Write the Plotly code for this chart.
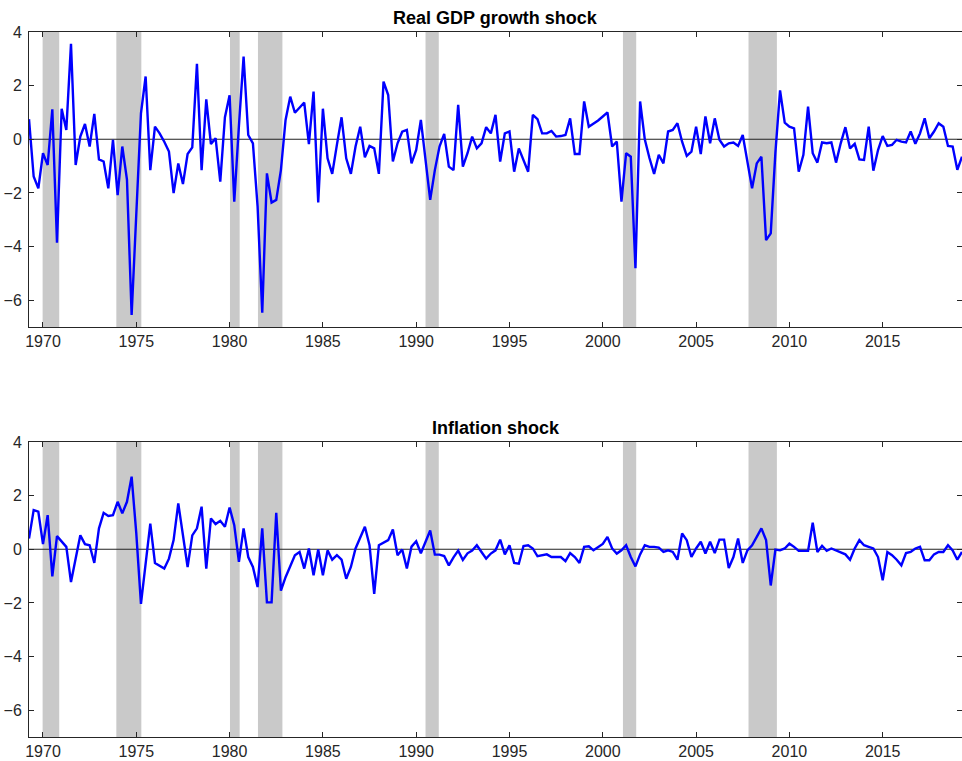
import plotly.graph_objects as go

# ---------------- data ----------------
start_year = 1969.25  # 1969Q2, quarterly observations
gdp_shock = [
    0.75, -1.39, -1.83, -0.52, -0.96, 1.12, -3.86, 1.14, 0.35, 3.56,
    -0.96, 0.10, 0.57, -0.27, 0.95, -0.75, -0.83, -1.83, -0.02, -2.08,
    -0.27, -1.5, -6.55, -2.8, 0.97, 2.34, -1.15, 0.47, 0.22, -0.09,
    -0.46, -2.01, -0.90, -1.67, -0.55, -0.30, 2.81, -1.15, 1.49, -0.18,
    0.04, -1.58, 0.82, 1.64, -2.33, 0.5, 3.08, 0.16, -0.15, -2.5,
    -6.47, -1.27, -2.36, -2.26, -1.15, 0.72, 1.59, 0.99, 1.19, 1.37,
    -0.18, 1.78, -2.36, 1.14, -0.71, -1.29, -0.21, 0.82, -0.71, -1.29,
    -0.27, 0.47, -0.67, -0.25, -0.34, -1.29, 2.15, 1.65, -0.83, -0.15,
    0.28, 0.35, -0.90, -0.40, 0.72, -0.8, -2.26, -1.15, -0.27, 0.20,
    -1.02, -1.15, 1.28, -1.02, -0.52, 0.10, -0.34, -0.15, 0.45, 0.22,
    0.91, -0.83, 0.22, 0.29, -1.21, -0.34, -0.77, -1.21, 0.91, 0.75,
    0.22, 0.22, 0.31, 0.10, 0.12, 0.16, 0.78, -0.55, -0.55, 1.41,
    0.47, 0.57, 0.70, 0.85, 1.00, -0.27, -0.09, -2.33, -0.52, -0.65,
    -4.81, 1.41, 0.0, -0.7, -1.29, -0.58, -0.90, 0.29, 0.35, 0.60,
    -0.09, -0.62, -0.46, 0.47, -0.55, 0.85, -0.15, 0.78, -0.02, -0.27,
    -0.15, -0.12, -0.25, 0.16, -0.77, -1.83, -0.90, -0.65, -3.76, -3.51,
    -0.5, 1.82, 0.62, 0.47, 0.41, -1.21, -0.58, 1.22, -0.52, -0.87,
    -0.12, -0.15, -0.12, -0.87, -0.15, 0.45, -0.34, -0.17, -0.75, -0.77,
    0.47, -1.17, -0.40, 0.12, -0.25, -0.21, -0.02, -0.09, -0.12, 0.29,
    -0.17, 0.22, 0.78, 0.04, 0.29, 0.60, 0.47, -0.25, -0.27, -1.14,
    -0.65,
]
inflation_shock = [
    0.4, 1.46, 1.4, 0.19, 1.27, -1.01, 0.49, 0.28, 0.09, -1.22,
    -0.35, 0.52, 0.19, 0.15, -0.51, 0.78, 1.36, 1.24, 1.27, 1.77,
    1.34, 1.77, 2.71, 0.59, -2.04, -0.6, 0.96, -0.51, -0.6, -0.72,
    -0.35, 0.34, 1.71, 0.59, -0.66, 0.52, 0.78, 1.59, -0.72, 1.15,
    0.94, 1.06, 0.84, 1.56, 0.9, -0.47, 0.78, -0.29, -0.66, -1.41,
    0.78, -1.98, -1.98, 1.36, -1.54, -1.04, -0.6, -0.22, -0.1, -0.72,
    0.03, -0.97, -0.01, -0.97, -0.04, -0.39, -0.22, -0.39, -1.1, -0.66,
    0.03, 0.44, 0.84, 0.15, -1.66, 0.15, 0.24, 0.34, 0.74, -0.22,
    -0.01, -0.72, 0.1, 0.3, -0.15, 0.25, 0.7, -0.2, -0.2, -0.25,
    -0.6, -0.3, -0.05, -0.4, -0.15, -0.05, 0.15, -0.1, -0.35, -0.16,
    -0.04, 0.36, -0.19, 0.15, -0.51, -0.54, 0.12, 0.15, 0.03, -0.26,
    -0.22, -0.19, -0.29, -0.29, -0.29, -0.44, -0.14, -0.29, -0.51, 0.09,
    0.11, -0.04, 0.09, 0.2, 0.46, 0.03, -0.16, -0.04, 0.15, -0.29,
    -0.64, -0.19, 0.15, 0.09, 0.09, 0.06, -0.1, -0.04, -0.1, -0.39,
    0.59, 0.34, -0.29, 0.03, 0.28, -0.16, 0.28, -0.14, 0.36, 0.36,
    -0.7, -0.29, 0.4, -0.51, -0.04, 0.15, 0.46, 0.78, 0.34, -1.35,
    -0.01, -0.04, 0.03, 0.21, 0.09, -0.06, -0.06, -0.06, 0.99, -0.1,
    0.13, -0.06, 0.03, -0.04, -0.14, -0.19, -0.39, 0.03, 0.34, 0.15,
    0.09, 0.03, -0.29, -1.16, -0.1, -0.22, -0.39, -0.6, -0.14, -0.1,
    0.03, 0.09, -0.41, -0.41, -0.19, -0.1, -0.1, 0.15, -0.04, -0.39,
    -0.1,
]
recession_starts = [1969.98, 1973.93, 1980.02, 1981.52, 1990.50, 2001.08, 2007.81]
recession_ends = [1970.87, 1975.27, 1980.54, 1982.83, 1991.21, 2001.79, 2009.33]
panel_titles = ["Real GDP growth shock", "Inflation shock"]
x_ticks = [1970, 1975, 1980, 1985, 1990, 1995, 2000, 2005, 2010, 2015]
y_ticks = [-6, -4, -2, 0, 2, 4]

dates = [start_year + 0.25 * i for i in range(len(gdp_shock))]

# ---------------- figure ----------------
W, H = 962, 761
ml, mr, mt, mb = 29, 0, 32, 24
ph = H - mt - mb
top_dom = [(H - mb - 327) / ph, 1.0]
bot_dom = [0.0, (H - mb - 442) / ph]

fig = go.Figure()
series = [gdp_shock, inflation_shock]
for i, vals in enumerate(series):
    fig.add_trace(go.Scatter(
        x=dates, y=vals, mode="lines",
        line=dict(color="#0000ff", width=2.4),
        xaxis="x" if i == 0 else "x2",
        yaxis="y" if i == 0 else "y2",
        showlegend=False, hoverinfo="skip",
    ))

shapes = []
for i in range(2):
    xr = "x" if i == 0 else "x2"
    yr = "y" if i == 0 else "y2"
    for s, e in zip(recession_starts, recession_ends):
        shapes.append(dict(type="rect", xref=xr, yref=yr + " domain", x0=s, x1=e, y0=0, y1=1,
                           fillcolor="#c9c9c9", line=dict(width=0), layer="below"))
    shapes.append(dict(type="line", xref=xr + " domain", yref=yr,
                       x0=0, x1=1, y0=0, y1=0, line=dict(color="#222222", width=1.2), layer="below"))

font_family = "Liberation Sans, Arial, Helvetica, sans-serif"
axis_font = dict(family=font_family, size=16, color="#262626")
xcommon = dict(range=[dates[0], dates[-1]], tickvals=x_ticks, ticks="inside", ticklen=5,
               tickcolor="#262626", showline=True, linecolor="#262626", linewidth=1, mirror="ticks",
               showgrid=False, zeroline=False, tickfont=axis_font, automargin=False)
ycommon = dict(range=[-7, 4], tickvals=y_ticks, ticks="inside", ticklen=5,
               tickcolor="#262626", showline=True, linecolor="#262626", linewidth=1, mirror="ticks",
               showgrid=False, zeroline=False, tickfont=axis_font, automargin=False,
               ticklabelstandoff=3)

annotations = []
for i, t in enumerate(panel_titles):
    annotations.append(dict(text="<b>" + t + "</b>", xref="paper", yref="paper",
                            x=0.5, y=(top_dom[1] if i == 0 else bot_dom[1]),
                            yshift=2, xanchor="center", yanchor="bottom", showarrow=False,
                            font=dict(family=font_family, size=18, color="#000000")))

fig.update_layout(
    width=W, height=H, margin=dict(l=ml, r=mr, t=mt, b=mb, autoexpand=False),
    plot_bgcolor="white", paper_bgcolor="white",
    xaxis=dict(domain=[0, 1], anchor="y", **xcommon),
    yaxis=dict(domain=top_dom, anchor="x", **ycommon),
    xaxis2=dict(domain=[0, 1], anchor="y2", **xcommon),
    yaxis2=dict(domain=bot_dom, anchor="x2", **ycommon),
    shapes=shapes, annotations=annotations,
)

# remove the default 8px page margin so the figure fills the window exactly
fig.write_html("out.html", config={"displayModeBar": False, "staticPlot": True},
               post_script="document.body.style.margin='0';document.body.style.overflow='hidden';")
